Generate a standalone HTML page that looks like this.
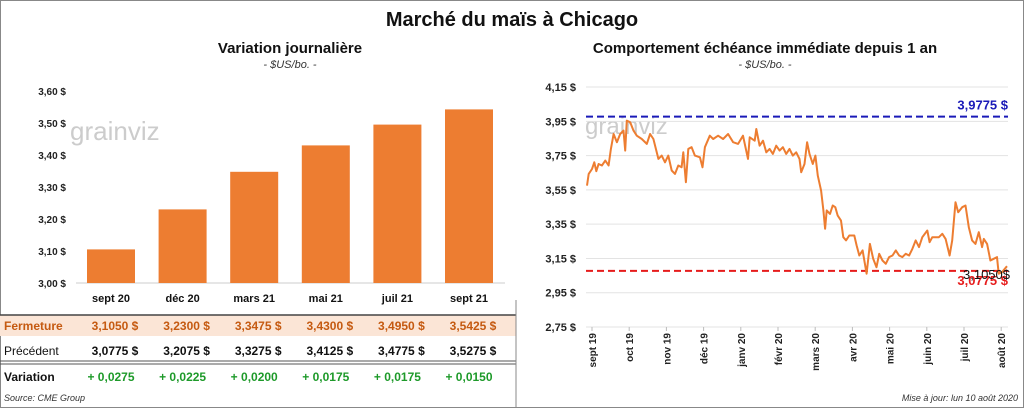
<!DOCTYPE html>
<html><head><meta charset="utf-8"><style>
body{margin:0;background:#fff;}
#root{position:relative;width:1024px;height:408px;overflow:hidden;font-family:"Liberation Sans",sans-serif;}
svg text{font-family:"Liberation Sans",sans-serif;}
</style></head><body>
<div id="root">
<svg id="svg" width="1024" height="408" xmlns="http://www.w3.org/2000/svg">
<rect x="0.5" y="0.5" width="1023" height="407" fill="#fff" stroke="#888"/>
<text x="512" y="26" text-anchor="middle" font-size="20" font-weight="bold" fill="#111">Marché du maïs à Chicago</text>
<text x="290" y="53" text-anchor="middle" font-size="15" font-weight="bold" fill="#111">Variation  journalière</text>
<text x="290" y="68" text-anchor="middle" font-size="11" font-style="italic" fill="#333">- $US/bo. -</text>
<text x="765" y="53" text-anchor="middle" font-size="15" font-weight="bold" fill="#111">Comportement  échéance immédiate depuis 1 an</text>
<text x="765" y="68" text-anchor="middle" font-size="11" font-style="italic" fill="#333">- $US/bo. -</text>
<text x="70" y="140" font-size="26" fill="#ccc">grainviz</text>
<text x="585" y="134" font-size="24" fill="#ccc">grainviz</text>
<g id="left"></g><g id="right"></g>
<text x="4" y="401" font-size="9" font-style="italic" fill="#333">Source: CME Group</text>
<text x="1018" y="401" text-anchor="end" font-size="9" font-style="italic" fill="#333">Mise à jour: lun 10 août 2020</text>
</svg>
</div>
<script>
const contracts=["sept 20","déc 20","mars 21","mai 21","juil 21","sept 21"];
const closes=[3.1050,3.2300,3.3475,3.4300,3.4950,3.5425];
const previous=[3.0775,3.2075,3.3275,3.4125,3.4775,3.5275];
const leftTicks=[3.00,3.10,3.20,3.30,3.40,3.50,3.60];
const days=[0,5,15,22,28,35,45,55,65,72,80,90,100,110,115,120,130,140,150,165,180,190,200,215,225,235,245,255,265,275,285,290,298,305,315,325,340,348,355,370,380,395,410,425,440,455,470,485,490,505,510,520,530,540,550,560,570,580,590,600,610,620,630,640,645,655,663,670,680,688,695,705,712,717,722,732,740,748,755,765,772,780,790,805,812,820,830,842,852,862,872,880,890,900,910,920,930,940,950,960,970,980,990,1000,1010,1025,1032,1040,1060,1070,1080,1092,1100,1110,1118,1130,1140,1150,1160,1170,1180,1190,1195,1205,1215,1225,1235,1240,1250,1265];
const prices=[3.575,3.643,3.672,3.711,3.659,3.701,3.692,3.721,3.692,3.789,3.876,3.828,3.876,3.896,3.779,3.954,3.944,3.896,3.866,3.847,3.818,3.876,3.847,3.731,3.750,3.711,3.750,3.663,3.643,3.692,3.682,3.769,3.595,3.789,3.799,3.750,3.740,3.682,3.799,3.866,3.847,3.866,3.847,3.876,3.828,3.818,3.866,3.731,3.857,3.837,3.905,3.808,3.837,3.769,3.789,3.760,3.808,3.779,3.799,3.760,3.789,3.750,3.769,3.731,3.653,3.701,3.828,3.760,3.701,3.750,3.633,3.546,3.430,3.323,3.430,3.410,3.459,3.449,3.400,3.371,3.274,3.255,3.284,3.284,3.226,3.167,3.197,3.061,3.235,3.148,3.099,3.177,3.138,3.119,3.158,3.167,3.197,3.167,3.158,3.177,3.167,3.206,3.255,3.216,3.274,3.313,3.245,3.274,3.274,3.294,3.264,3.167,3.255,3.478,3.420,3.449,3.459,3.332,3.255,3.235,3.303,3.216,3.264,3.235,3.138,3.148,3.158,3.061,3.070,3.105];
const rightTicks=[2.75,2.95,3.15,3.35,3.55,3.75,3.95,4.15];
const months=["sept 19","oct 19","nov 19","déc 19","janv 20","févr 20","mars 20","avr 20","mai 20","juin 20","juil 20","août 20"];
const highVal=3.9775, lowVal=3.0775, lastVal=3.1050;

const NS="http://www.w3.org/2000/svg";
function mk(tag,attrs,parent,txt){const e=document.createElementNS(NS,tag);for(const k in attrs)e.setAttribute(k,attrs[k]);if(txt!==undefined)e.textContent=txt;parent.appendChild(e);return e;}
const fmt=(v,d)=>v.toFixed(d).replace('.',',');

// Left chart
const L=document.getElementById('left');
const ly=v=>283-(v-3.0)*320;
const lx=i=>111+i*71.6;
leftTicks.forEach(t=>{
  const e=mk('text',{x:66,y:ly(t)+4,'text-anchor':'end','font-size':10,'font-weight':'bold',fill:'#222'},L,fmt(t,2)+' $');
  
  
});
mk('line',{x1:76,x2:505,y1:ly(3.0),y2:ly(3.0),stroke:'#ccc'},L);
closes.forEach((v,i)=>{
  const b=mk('rect',{x:lx(i)-24,y:ly(v),width:48,height:ly(3.0)-ly(v),fill:'#ed7d31'},L);
  
  
  const h=mk('text',{x:lx(i),y:302,'text-anchor':'middle','font-size':11,'font-weight':'bold',fill:'#111'},L,contracts[i]);
  
  
});
// table
const bg=mk('rect',{x:0,y:315,width:516,height:21,fill:'#fbe5d6'},L);


mk('line',{x1:0,x2:516,y1:315,y2:315,stroke:'#444','stroke-width':1.5},L);
mk('line',{x1:0,x2:516,y1:361,y2:361,stroke:'#555','stroke-width':1},L);
mk('line',{x1:0,x2:516,y1:364,y2:364,stroke:'#555','stroke-width':1},L);
mk('line',{x1:516,x2:516,y1:300,y2:408,stroke:'#888'},L);
const rl=[['Fermeture',330,'#c55a11',true],['Précédent',355,'#111',false],['Variation',381,'#111',true]];
rl.forEach(r=>{const e=mk('text',{x:4,y:r[1],'font-size':12,'font-weight':r[3]?'bold':'normal',fill:r[2]},L,r[0]);
  
  });
closes.forEach((v,i)=>{
  const a=mk('text',{x:lx(i)+4,y:330,'text-anchor':'middle','font-size':12,'font-weight':'bold',fill:'#c55a11'},L,fmt(v,4)+'  $');
  
  
  const p=mk('text',{x:lx(i)+4,y:355,'text-anchor':'middle','font-size':12,'font-weight':'bold',fill:'#111'},L,fmt(previous[i],4)+'  $');
  
  
  const d=v-previous[i];
  const c=mk('text',{x:lx(i),y:381,'text-anchor':'middle','font-size':12,'font-weight':'bold',fill:'#1e9a2a'},L,(d>=0?'+ ':'- ')+fmt(Math.abs(d),4));
  
  
});

// Right chart
const R=document.getElementById('right');
const ry=v=>327-(v-2.75)*171.4;
const rx=d=>587+d*(420/1265);
rightTicks.forEach(t=>{
  mk('line',{x1:586,x2:1008,y1:ry(t),y2:ry(t),stroke:'#e3e3e3'},R);
  const e=mk('text',{x:576,y:ry(t)+4,'text-anchor':'end','font-size':11,'font-weight':'bold',fill:'#222'},R,fmt(t,2)+' $');
  
  
});
months.forEach((m,i)=>{
  const x=592+i*37.2;
  mk('line',{x1:x,x2:x,y1:327,y2:331,stroke:'#bbb'},R);
  const e=mk('text',{x:0,y:0,transform:`translate(${x+4},333) rotate(-90)`,'text-anchor':'end','font-size':10,'font-weight':'bold',fill:'#222'},R,m);
  
  
});
const hl=mk('line',{x1:586,x2:1008,y1:ry(highVal),y2:ry(highVal),stroke:'#1a1ab8','stroke-width':2,'stroke-dasharray':'7,4'},R);


const ll=mk('line',{x1:586,x2:1008,y1:ry(lowVal),y2:ry(lowVal),stroke:'#e61c1c','stroke-width':2,'stroke-dasharray':'7,4'},R);


const pts=days.map((d,i)=>rx(d).toFixed(1)+','+ry(prices[i]).toFixed(1)).join(' ');
const pl=mk('polyline',{points:pts,fill:'none',stroke:'#ed7d31','stroke-width':2,'stroke-linejoin':'round'},R);


const ht=mk('text',{x:1008,y:ry(highVal)-7,'text-anchor':'end','font-size':13,'font-weight':'bold',fill:'#1a1ab8'},R,fmt(highVal,4)+' $');


const lt=mk('text',{x:1008,y:ry(lowVal)+14,'text-anchor':'end','font-size':13,'font-weight':'bold',fill:'#e61c1c'},R,fmt(lowVal,4)+' $');


const la=mk('text',{x:1010,y:ry(lowVal)+8,'text-anchor':'end','font-size':13,fill:'#111'},R,fmt(lastVal,4)+'$');


</script>
</body></html>
